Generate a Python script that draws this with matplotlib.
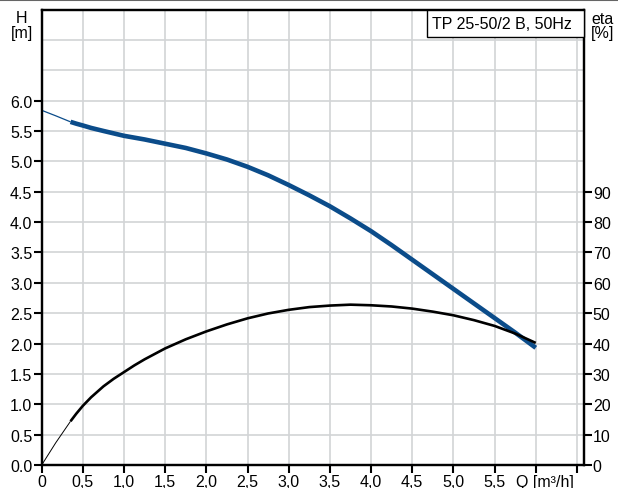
import numpy as np
import matplotlib
matplotlib.use("Agg")
import matplotlib.pyplot as plt
from matplotlib import font_manager as fm
from matplotlib.lines import Line2D
from matplotlib.patches import Rectangle

# prefer the regular-width Liberation Sans (drop the Narrow variants)
fm.fontManager.ttflist = [f for f in fm.fontManager.ttflist if 'Narrow' not in f.fname]
plt.rcParams['font.family'] = ['Liberation Sans', 'DejaVu Sans']

# ---- data ----
q_pts = [0, 0.17, 0.35, 0.42, 0.5, 0.6, 0.75, 0.875, 1.0, 1.125, 1.25, 1.5, 1.75, 2.0,
         2.25, 2.5, 2.75, 3.0, 3.25, 3.5, 3.75, 4.0, 4.25, 4.5, 4.75, 5.0, 5.25, 5.5,
         5.75, 6.0]
head_m = [5.84, 5.75, 5.65, 5.62, 5.59, 5.55, 5.50, 5.46, 5.42, 5.39, 5.36, 5.29, 5.22,
          5.13, 5.03, 4.91, 4.77, 4.61, 4.44, 4.26, 4.06, 3.85, 3.62, 3.38, 3.14, 2.90,
          2.66, 2.42, 2.18, 1.93]
eta_pct = [0, 7.3, 14.4, 16.9, 19.5, 22.3, 25.9, 28.4, 30.6, 32.8, 34.8, 38.4, 41.4,
           44.0, 46.3, 48.3, 49.9, 51.1, 52.0, 52.5, 52.8, 52.6, 52.2, 51.5, 50.5, 49.3,
           47.7, 45.8, 43.3, 40.2]
thin_end_index = 2  # curves drawn thin up to Q = 0.35

x_ticks = [0, 0.5, 1.0, 1.5, 2.0, 2.5, 3.0, 3.5, 4.0, 4.5, 5.0, 5.5, 6.0, 6.5]
x_ticklabels = ["0", "0,5", "1,0", "1,5", "2,0", "2,5", "3,0", "3,5", "4,0",
                "4,5", "5,0", "5,5", "", ""]
q_label = "Q [m³/h]"
h_ticks = [0.0, 0.5, 1.0, 1.5, 2.0, 2.5, 3.0, 3.5, 4.0, 4.5, 5.0, 5.5, 6.0]
h_grid_extra = [6.5, 7.0, 7.5]
eta_ticks = [0, 10, 20, 30, 40, 50, 60, 70, 80, 90]
title_text = "TP 25-50/2 B, 50Hz"

blue = '#0b4c8a'
grid_c = '#d2d4d6'
fs = 11.5

fig = plt.figure(figsize=(6.18, 4.89), dpi=100)
W, H = 618, 489
ax_l, ax_r, ax_t, ax_b = 41.7, 583.5, 10.5, 466
ax = fig.add_axes([ax_l / W, 1 - ax_b / H, (ax_r - ax_l) / W, (ax_b - ax_t) / H])

ax.set_xlim(0, 6.58)
ax.set_ylim(0, 7.5)
ax.set_axisbelow(True)

ax.set_xticks(x_ticks)
ax.set_xticklabels(x_ticklabels)
ax.set_yticks(h_ticks)
ax.set_yticklabels([f"{v:.1f}" for v in h_ticks])
ax.set_yticks(h_grid_extra, minor=True)

ax.tick_params(axis='both', which='major', direction='out', length=5.5, width=1.5,
               labelsize=fs, color='black', pad=1.2)
ax.tick_params(axis='y', which='minor', length=0)
ax.grid(True, which='major', color=grid_c, lw=1.2)
ax.grid(True, which='minor', axis='y', color=grid_c, lw=1.2)

for s in ax.spines.values():
    s.set_linewidth(1.6)
    s.set_color('black')

ax.annotate(q_label, xy=(6.0, 0), xycoords=('data', 'axes fraction'),
            xytext=(6.5, -6.7), textcoords='offset points', ha='center', va='top',
            fontsize=fs)

# H curve
ax.plot(q_pts[:thin_end_index + 1], head_m[:thin_end_index + 1], color=blue, lw=0.9,
        solid_capstyle='butt', zorder=3)
ax.plot(q_pts[thin_end_index:], head_m[thin_end_index:], color=blue, lw=3.3,
        solid_capstyle='butt', solid_joinstyle='round', zorder=3)

# eta axis
ax2 = ax.twinx()
ax2.set_ylim(0, 150)
ax2.set_yticks(eta_ticks)
ax2.set_yticklabels([str(v) for v in eta_ticks])
ax2.tick_params(axis='y', direction='out', length=5.5, width=1.5, labelsize=fs, pad=1.2)
for s in ax2.spines.values():
    s.set_linewidth(1.6)
    s.set_color('black')

ax2.plot(q_pts[:thin_end_index + 1], eta_pct[:thin_end_index + 1], color='black', lw=0.7,
         solid_capstyle='butt', zorder=3)
ax2.plot(q_pts[thin_end_index:], eta_pct[thin_end_index:], color='black', lw=1.9,
         solid_capstyle='butt', solid_joinstyle='round', zorder=3)

# title box
bx0 = (427 - ax_l) / (ax_r - ax_l)
by0 = (ax_b - 38) / (ax_b - ax_t)
ax2.add_patch(Rectangle((bx0, by0), 1 - bx0, 1 - by0, transform=ax2.transAxes,
                        facecolor='white', edgecolor='black', lw=1.0, zorder=5,
                        clip_on=False))
ax2.text(432 / W, 1 - 29 / H, title_text, transform=fig.transFigure, fontsize=fs,
         ha='left', va='baseline', zorder=6)

# axis unit labels
fig.text(21.5 / W, 1 - 23 / H, "H", fontsize=fs, ha='center', va='baseline')
fig.text(21.5 / W, 1 - 38 / H, "[m]", fontsize=fs, ha='center', va='baseline')
fig.text(603 / W, 1 - 24 / H, "eta", fontsize=fs, ha='center', va='baseline')
fig.text(603 / W, 1 - 38 / H, "[%]", fontsize=fs, ha='center', va='baseline')

# grey top border line
fig.add_artist(Line2D([0, 1], [1 - 0.8 / H, 1 - 0.8 / H], transform=fig.transFigure,
                      color='#666666', lw=1.5))

fig.savefig("out.png", dpi=100)
